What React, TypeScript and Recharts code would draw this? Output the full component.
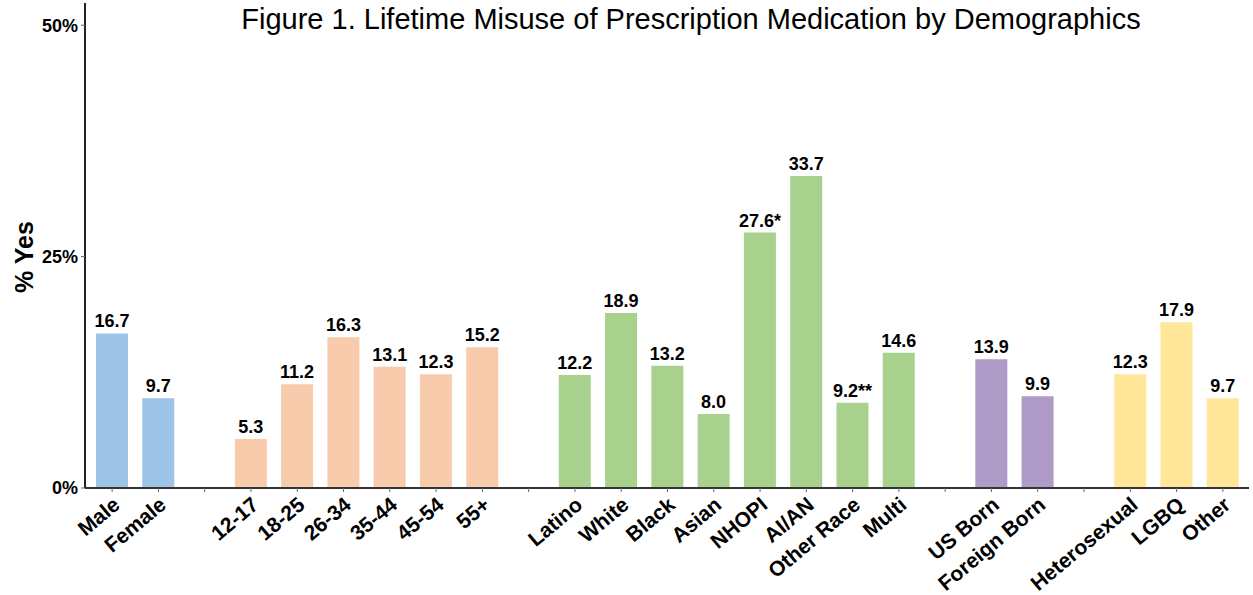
import React from 'react';
import { BarChart, Bar, XAxis, YAxis, Cell, LabelList } from 'recharts';

// empty strings are the spacer slots between groups
const categories = [
  'Male', 'Female', '',
  '12-17', '18-25', '26-34', '35-44', '45-54', '55+', '',
  'Latino', 'White', 'Black', 'Asian', 'NHOPI', 'AI/AN', 'Other Race', 'Multi', '',
  'US Born', 'Foreign Born', '',
  'Heterosexual', 'LGBQ', 'Other',
];

const values: (number | null)[] = [
  16.7, 9.7, null,
  5.3, 11.2, 16.3, 13.1, 12.3, 15.2, null,
  12.2, 18.9, 13.2, 8.0, 27.6, 33.7, 9.2, 14.6, null,
  13.9, 9.9, null,
  12.3, 17.9, 9.7,
];

const valueLabels = [
  '16.7', '9.7', '',
  '5.3', '11.2', '16.3', '13.1', '12.3', '15.2', '',
  '12.2', '18.9', '13.2', '8.0', '27.6*', '33.7', '9.2**', '14.6', '',
  '13.9', '9.9', '',
  '12.3', '17.9', '9.7',
];

const groups = [
  'sex', 'sex', '',
  'age', 'age', 'age', 'age', 'age', 'age', '',
  'race', 'race', 'race', 'race', 'race', 'race', 'race', 'race', '',
  'nativity', 'nativity', '',
  'orientation', 'orientation', 'orientation',
];

const yTicks = [0, 25, 50];

const GROUP_COLORS: Record<string, string> = {
  sex: '#9DC3E6',
  age: '#F8CBAD',
  race: '#A9D18E',
  nativity: '#AE9BC8',
  orientation: '#FFE699',
};

const data = categories.map((name, i) => ({
  id: i,
  name,
  value: values[i],
  label: valueLabels[i],
  group: groups[i],
}));

const FONT = '"Liberation Sans", Arial, sans-serif';

const XTick = (props: any) => {
  const { x, y, payload } = props;
  const name = categories[payload.value];
  return (
    <g transform={`translate(${x + 9},${y + 13})`}>
      <text
        x={0}
        y={0}
        textAnchor="end"
        transform="rotate(-40)"
        fontFamily={FONT}
        fontWeight="bold"
        fontSize={21}
        fill="#000"
      >
        {name}
      </text>
    </g>
  );
};

const App = () => {
  return (
    <div style={{ position: 'absolute', left: 0, top: 0, width: 1253, height: 595, background: '#fff' }}>
      <div
        style={{
          position: 'absolute',
          left: 0,
          width: 1382,
          top: 3,
          textAlign: 'center',
          fontFamily: FONT,
          fontSize: 29,
          color: '#000',
          zIndex: 1,
        }}
      >
        Figure 1. Lifetime Misuse of Prescription Medication by Demographics
      </div>
      <div
        style={{
          position: 'absolute',
          left: 24,
          top: 257,
          transform: 'translate(-50%, -50%) rotate(-90deg)',
          fontFamily: FONT,
          fontWeight: 'bold',
          fontSize: 25,
          whiteSpace: 'nowrap',
          color: '#000',
          zIndex: 1,
        }}
      >
        % Yes
      </div>
      <BarChart
        width={1253}
        height={595}
        data={data}
        margin={{ top: 3, right: 4, bottom: 0, left: 0 }}
        barCategoryGap={0}
      >
        <XAxis
          dataKey="id"
          type="category"
          interval={0}
          height={107}
          padding={{ left: 4, right: 3 }}
          axisLine={{ stroke: '#333', strokeWidth: 2 }}
          tickLine={{ stroke: '#666', strokeWidth: 1 }}
          tickSize={4}
          tick={<XTick />}
        />
        <YAxis
          type="number"
          domain={[0, 52.4]}
          ticks={yTicks}
          allowDataOverflow
          width={85}
          axisLine={{ stroke: '#222', strokeWidth: 2 }}
          tickLine={{ stroke: '#666', strokeWidth: 1 }}
          tickSize={4}
          tickMargin={3}
          tickFormatter={(v: number) => `${v}%`}
          tick={{ fontFamily: FONT, fontWeight: 'bold', fontSize: 18, fill: '#000' }}
        />
        <Bar dataKey="value" barSize={32} isAnimationActive={false}>
          {data.map((d, i) => (
            <Cell key={i} fill={GROUP_COLORS[d.group] || 'none'} />
          ))}
          <LabelList
            dataKey="label"
            position="top"
            offset={6}
            style={{ fontFamily: FONT, fontWeight: 'bold', fontSize: 18, fill: '#000' }}
          />
        </Bar>
      </BarChart>
    </div>
  );
};

export default App;
